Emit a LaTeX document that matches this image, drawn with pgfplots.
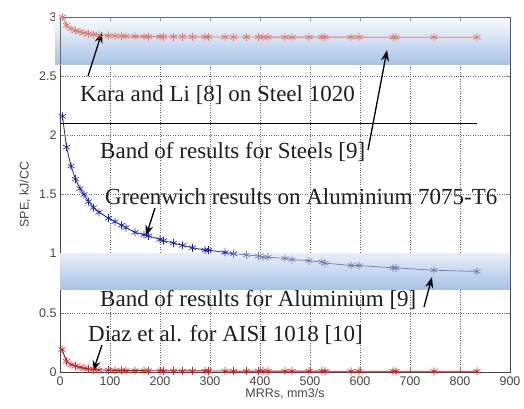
\documentclass[border=0pt]{standalone}
\usepackage{fontspec}
\setmainfont{Liberation Serif}
\setsansfont{Liberation Sans}
\usepackage{pgfplots}
\pgfplotsset{compat=1.18}
\usetikzlibrary{arrows.meta}
\definecolor{alblue}{RGB}{30,40,150}
\definecolor{alfade}{RGB}{115,120,180}
\definecolor{diazred}{RGB}{215,30,30}
\definecolor{steelred}{RGB}{225,125,115}
\definecolor{bandblue}{RGB}{168,194,229}
\definecolor{bandtop}{RGB}{232,238,247}
\definecolor{txt}{RGB}{30,30,30}
\definecolor{tick}{RGB}{70,70,70}
\begin{document}
\begin{tikzpicture}
\path[use as bounding box] (-60pt,-36pt) rectangle (464pt,372pt);
\begin{axis}[
  scale only axis, width=450pt, height=355pt,
  xmin=0, xmax=900, ymin=0, ymax=3,
  xtick={0,100,...,900}, ytick={0,0.5,1,1.5,2,2.5,3},
  grid=major,
  major grid style={dotted, gray!80!black, line width=0.6pt},
  axis line style={tick, line width=0.6pt},
  major tick style={tick, line width=0.5pt},
  major tick length=4pt,
  clip=false,
  /pgf/number format/assume math mode=true,
  ticklabel style={font=\sffamily\fontsize{12.5}{13}\selectfont, text=tick},
  yticklabel style={/pgf/number format/fixed},
  xticklabel style={yshift=-1pt},
  xlabel={MRRs, mm3/s},
  ylabel={SPE, kJ/CC},
  label style={font=\sffamily\fontsize{12.5}{13}\selectfont, text=tick},
  xlabel style={yshift=4pt},
  ylabel style={yshift=2pt},
]
% bands (drawn first, under the plots)
\fill[top color=white, bottom color=bandblue, draw=none]
  (axis cs:-10,2.60) rectangle (axis cs:900,3.02);
\fill[top color=bandtop, bottom color=bandblue, draw=none]
  (axis cs:0,0.70) rectangle (axis cs:900,1.00);
\draw[tick!80!white, line width=0.6pt] (axis cs:0,2.6) -- (axis cs:0,3) -- (axis cs:900,3);
\draw[tick!60!white, line width=0.5pt] (axis cs:100,3) -- +(0,-4pt) (axis cs:200,3) -- +(0,-4pt)
  (axis cs:300,3) -- +(0,-4pt) (axis cs:400,3) -- +(0,-4pt) (axis cs:500,3) -- +(0,-4pt)
  (axis cs:600,3) -- +(0,-4pt) (axis cs:700,3) -- +(0,-4pt) (axis cs:800,3) -- +(0,-4pt);
% Aluminium Greenwich, above the band
\addplot[color=alblue, line width=0.8pt, mark=asterisk, mark size=4pt, mark options={color=alblue!80!blue, line width=0.6pt}] coordinates {
(5,2.16)(13,1.90)(22,1.74)(31,1.63)(40,1.55)(48,1.50)(57,1.44)(67,1.39)(78,1.35)(97,1.30)
(110,1.27)(123,1.24)(132,1.22)(150,1.18)(168,1.16)(177,1.15)(200,1.12)(207,1.11)(227,1.09)(245,1.07)
(265,1.05)(290,1.03)(297,1.03)(330,1.01)(347,1.00)};
% Aluminium Greenwich, inside the band
\addplot[color=alfade, line width=0.7pt, mark=asterisk, mark size=4pt, mark options={color=alfade, line width=0.6pt}] coordinates {
(347,1.00)(373,0.99)(397,0.98)(406,0.97)(416,0.97)(450,0.96)
(464,0.95)(498,0.94)(524,0.93)(530,0.92)(582,0.90)(598,0.90)(666,0.88)(672,0.88)(748,0.86)(834,0.85)};
% Steel Kara and Li
\addplot[color=steelred, line width=0.8pt, mark=asterisk, mark size=4pt, mark options={line width=0.9pt}] coordinates {
(5,3.00)(13,2.93)(22,2.90)(31,2.885)(40,2.875)(48,2.865)(57,2.858)(67,2.852)(78,2.847)(97,2.842)
(110,2.84)(123,2.838)(132,2.837)(150,2.836)(168,2.835)(177,2.834)(200,2.834)(207,2.833)(227,2.833)(245,2.833)
(265,2.832)(290,2.832)(297,2.832)(330,2.831)(347,2.831)(373,2.831)(397,2.831)(406,2.83)(416,2.83)(450,2.83)
(464,2.83)(498,2.83)(524,2.83)(530,2.83)(582,2.83)(598,2.83)(666,2.829)(672,2.829)(748,2.829)(834,2.829)};
% Diaz
\addplot[color=diazred!70!black, line width=0.9pt, mark=asterisk, mark size=4pt, mark options={color=diazred, line width=0.6pt}] coordinates {
(4,0.19)(13,0.09)(22,0.062)(31,0.05)(40,0.04)(48,0.032)(57,0.026)(67,0.021)(78,0.018)(97,0.015)
(110,0.014)(123,0.013)(132,0.012)(150,0.012)(168,0.011)(177,0.011)(200,0.010)(207,0.010)(227,0.010)(245,0.009)
(265,0.009)(290,0.009)(297,0.009)(330,0.008)(347,0.008)(373,0.008)(397,0.008)(406,0.008)(416,0.007)(450,0.007)
(464,0.007)(498,0.007)(524,0.007)(530,0.007)(582,0.006)(598,0.006)(666,0.006)(672,0.006)(748,0.006)(834,0.006)};
\draw[black, line width=0.6pt] (axis cs:0,2.1) -- (axis cs:834,2.1);
% annotations
\begin{scope}[every node/.style={font=\fontsize{23}{23}\selectfont, text=txt, inner sep=0pt, anchor=west}]
\node at (axis cs:40,2.34) {Kara and Li [8] on Steel 1020};
\node at (axis cs:80,1.86) {Band of results for Steels [9]};
\node at (axis cs:90,1.48) {Greenwich results on Aluminium 7075-T6};
\node at (axis cs:80,0.61) {Band of results for Aluminium [9]};
\node at (axis cs:56,0.31) {Diaz et al. for AISI 1018 [10]};
\end{scope}
\begin{scope}[line width=1.3pt, -{Stealth[length=11pt,width=8pt]}]
\draw (axis cs:56,2.50) -- (axis cs:84,2.873);
\draw (axis cs:616,1.876) -- (axis cs:654,2.72);
\draw (axis cs:190,1.386) -- (axis cs:172,1.149);
\draw (axis cs:728,0.549) -- (axis cs:744,0.803);
\draw (axis cs:84,0.228) -- (axis cs:66,0.005);
\end{scope}
\end{axis}
\end{tikzpicture}
\end{document}
